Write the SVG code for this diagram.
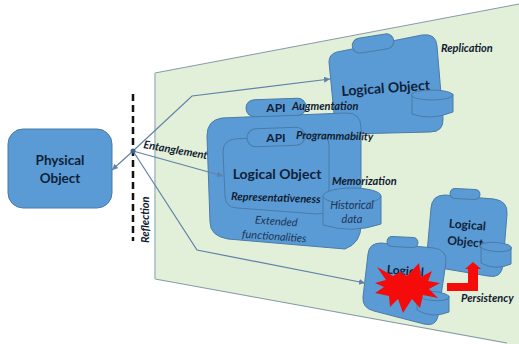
<svg xmlns="http://www.w3.org/2000/svg" width="519" height="344" viewBox="0 0 519 344">
<style>
.n{fill:#5b9bd5;stroke:#4a7ba7;stroke-width:1}
.c{fill:none;stroke:#5f82a8;stroke-width:1.200}
text{font-family:Lato,"Liberation Sans",Arial,sans-serif;fill:#0f1f38}
.b{font-weight:700;text-anchor:middle}
.i{font-weight:700;font-style:italic;font-size:11px;fill:#101c30}
.h{font-style:italic;font-size:11px;text-anchor:middle;fill:#1d3557}
</style>
<defs>
<marker id="a" markerWidth="7" markerHeight="7" refX="6" refY="3" orient="auto" markerUnits="userSpaceOnUse"><path d="M0 0L6 3L0 6Z" fill="#5f82a8"/></marker>
</defs>
<rect width="519" height="344" fill="#fff"/>
<g id="plane">
<path d="M155 73L519 4V344H507L155 279Z" fill="#e2efd9"/>
<path d="M155 73L519 4M155 279L507 343" fill="none" stroke="#6b8299" stroke-width="0.8"/>
<path d="M155 73V279" fill="none" stroke="#a9bfc4" stroke-width="1.6"/>
</g>
<g id="node-replica">
<path class="n" d="M329 62Q329 54 337 52L422 35Q436 33 437 46L443 118Q444 132 430 132L348 134Q336 134 335 124Z"/>
<rect class="n" x="352" y="36" width="42" height="15" rx="7.500" transform="rotate(-9 373 43)"/>
<text class="b" font-size="14" transform="translate(386 93) rotate(-4)">Logical Object</text>
<path class="n" d="M412 95V114Q430 121 453 112V94Z"/>
<ellipse class="n" cx="432" cy="95" rx="20.500" ry="5"/>
</g>
<g id="node-extended">
<path class="n" d="M207 136Q207 120 222 118L345 113Q361 112 361 128V225Q361 243 345 249L228 239Q210 236 210 222Z"/>
<rect class="n" x="246" y="99" width="60" height="17" rx="8.500" transform="rotate(-2 276 107)"/>
<text class="b" font-size="12" x="276" y="112">API</text>
<text class="i" x="292" y="110">Augmentation</text>
<path class="n" d="M223 152Q223 140 235 139L317 134Q329 134 329 146V202Q329 214 317 214L237 208Q225 207 225 196Z"/>
<rect class="n" x="247" y="128" width="58" height="18" rx="9" transform="rotate(-2 276 137)"/>
<text class="b" font-size="12" x="276" y="142">API</text>
<text class="i" transform="translate(296 139) rotate(1)">Programmability</text>
<text class="b" font-size="14" x="277" y="179">Logical Object</text>
<text class="i" transform="translate(231 200) rotate(2)">Representativeness</text>
<path class="n" d="M323 196V225Q352 234 381 224V196Z"/>
<ellipse class="n" cx="352" cy="196" rx="29" ry="8"/>
<text class="i" x="332" y="185">Memorization</text>
<text class="h" x="352" y="209">Historical</text>
<text class="h" x="352" y="223">data</text>
<text class="h" transform="translate(276 225) rotate(4)">Extended</text>
<text class="h" transform="translate(274 240) rotate(4)">functionalities</text>
</g>
<g id="node-persist">
<path class="n" d="M431 208Q432 195 445 195L494 199Q508 201 507 214L503 264Q502 279 488 276L440 268Q426 266 427 253Z"/>
<rect class="n" x="450" y="189" width="30" height="10" rx="5" transform="rotate(3 465 194)"/>
<text class="b" font-size="12" transform="translate(467 229) rotate(5)">Logical</text>
<text class="b" font-size="12" transform="translate(465 246) rotate(5)">Object</text>
<path class="n" d="M481 246V263Q495 271 511 264V248Z"/>
<ellipse class="n" cx="496" cy="247" rx="15.500" ry="4.500" transform="rotate(4 496 247)"/>
</g>
<g id="node-failed">
<path class="n" d="M368 254Q369 243 381 243L434 248Q447 250 446 262L438 316Q436 327 424 324L374 311Q362 308 363 297Z"/>
<rect class="n" x="387" y="237" width="31" height="10" rx="5" transform="rotate(3 402 242)"/>
<text class="b" font-size="12" transform="translate(405 275) rotate(5)">Logical</text>
<path class="n" d="M417 296V310Q432 319 449 312V296Z"/>
<ellipse class="n" cx="433" cy="296" rx="16" ry="4.500" transform="rotate(4 433 296)"/>
<path fill="#f60b0b" d="M377 267L393 276L400 272L407 276L419 263L421 277L432 271L428 281L440 283L429 289L438 298L423 295L420 308L412 299L403 313L398 299L390 307L389 296L375 293L384 287L375 283L386 280Z"/>
</g>
<g id="node-physical">
<rect class="n" x="8" y="129" width="104" height="79" rx="15"/>
<text class="b" font-size="13.500" x="60" y="165">Physical</text>
<text class="b" font-size="13.500" x="60" y="183">Object</text>
</g>
<g id="connectors">
<path d="M133 94V241" fill="none" stroke="#111" stroke-width="2.500" stroke-dasharray="7 4"/>
<path class="c" d="M133 151L112 170" marker-end="url(#a)"/>
<path class="c" d="M133 151L192 96L330 79" marker-end="url(#a)"/>
<path class="c" d="M133 151L223 176" marker-end="url(#a)"/>
<path class="c" d="M133 151L197 250L365 283" marker-end="url(#a)"/>
<circle cx="133" cy="151" r="2.500" fill="#3f6488"/>
<path d="M447 283V291H478V269H481L473 262L465 269H468V283Z" fill="#f60b0b"/>
</g>
<g id="labels">
<text class="i" x="441" y="52">Replication</text>
<text class="i" transform="translate(143 148) rotate(10)">Entanglement</text>
<text class="i" transform="translate(149 243) rotate(-90)">Reflection</text>
<text class="i" x="461" y="302">Persistency</text>
</g>
</svg>
